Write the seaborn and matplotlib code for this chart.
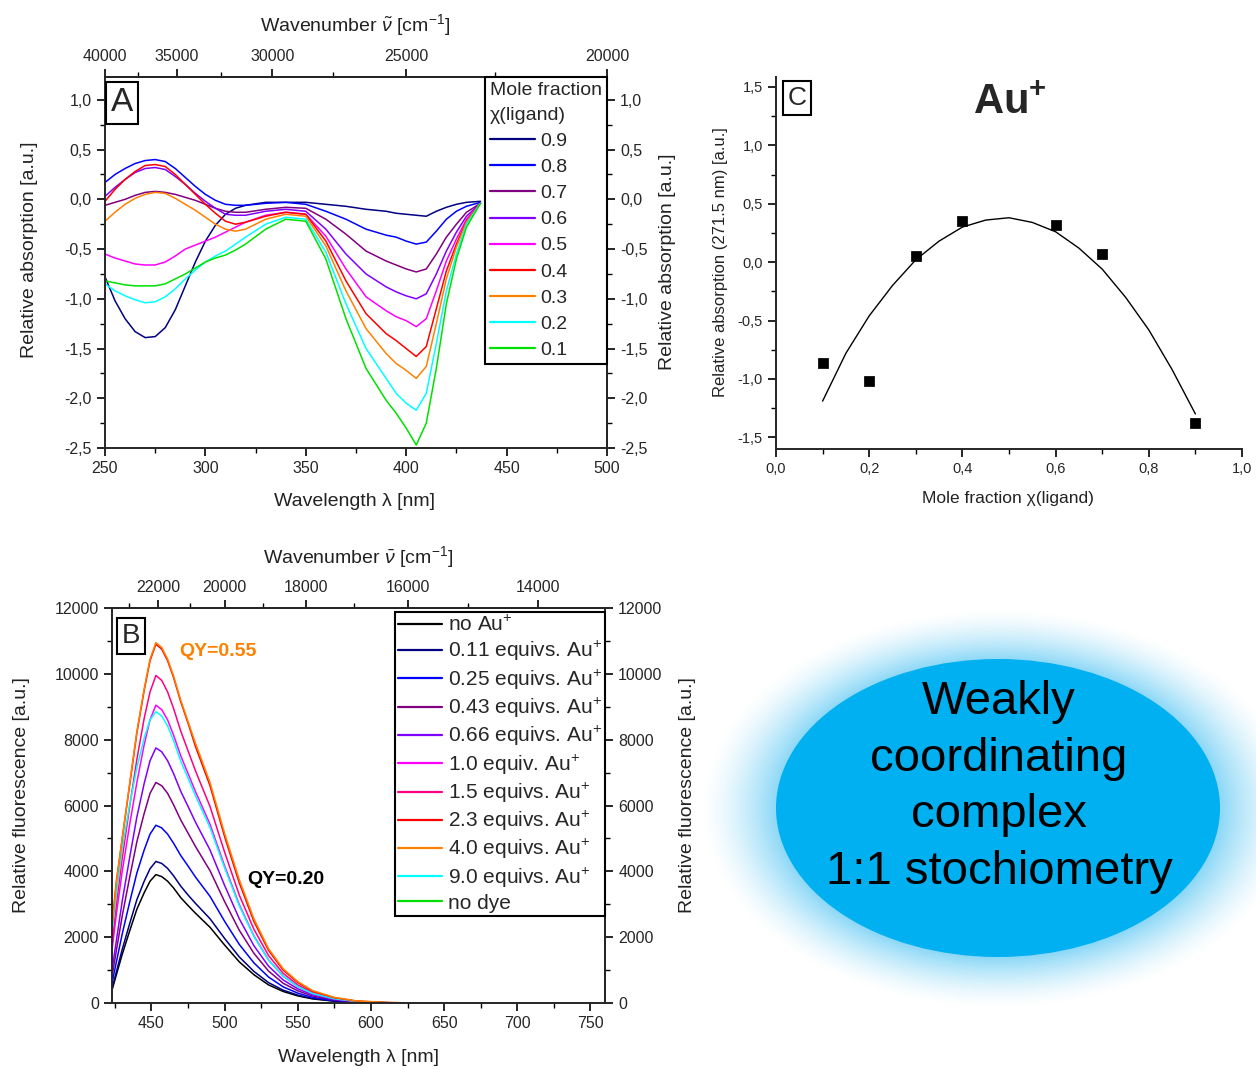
import numpy as np
import matplotlib
matplotlib.use('Agg')
import matplotlib.pyplot as plt
import seaborn as sns
from matplotlib.lines import Line2D
from matplotlib.patches import Ellipse
from matplotlib.ticker import MultipleLocator, FixedLocator, FuncFormatter

# ---------------- Panel A data (relative absorption vs wavelength) ----------------
wl_A = [250, 255, 260, 265, 270, 275, 280, 285, 290, 295, 300, 305, 310, 315, 320,
        330, 340, 350, 360, 370, 380, 390, 395, 400, 405, 410, 415, 420, 425, 430, 437]
abs_09 = [-0.78, -1.02, -1.20, -1.33, -1.39, -1.38, -1.29, -1.11, -0.87, -0.63, -0.42, -0.26, -0.15, -0.09, -0.06,
          -0.03, -0.03, -0.03, -0.05, -0.07, -0.10, -0.12, -0.14, -0.15, -0.16, -0.17, -0.12, -0.08, -0.05, -0.03, -0.02]
abs_08 = [0.17, 0.25, 0.31, 0.36, 0.39, 0.40, 0.38, 0.31, 0.22, 0.13, 0.05, -0.01, -0.05, -0.06, -0.06,
          -0.04, -0.03, -0.05, -0.12, -0.20, -0.30, -0.36, -0.38, -0.42, -0.45, -0.43, -0.32, -0.20, -0.12, -0.07, -0.03]
abs_07 = [-0.06, -0.03, 0.00, 0.04, 0.07, 0.08, 0.07, 0.05, 0.02, -0.01, -0.05, -0.09, -0.12, -0.13, -0.13,
          -0.10, -0.08, -0.09, -0.20, -0.35, -0.52, -0.62, -0.66, -0.70, -0.73, -0.70, -0.55, -0.38, -0.25, -0.13, -0.04]
abs_06 = [0.03, 0.12, 0.20, 0.27, 0.31, 0.32, 0.30, 0.23, 0.15, 0.06, -0.02, -0.09, -0.15, -0.16, -0.16,
          -0.12, -0.10, -0.12, -0.30, -0.55, -0.75, -0.88, -0.93, -0.97, -1.00, -0.95, -0.75, -0.52, -0.33, -0.17, -0.04]
abs_05 = [-0.55, -0.59, -0.62, -0.65, -0.66, -0.66, -0.63, -0.57, -0.50, -0.46, -0.42, -0.38, -0.33, -0.28, -0.23,
          -0.16, -0.13, -0.15, -0.37, -0.70, -0.98, -1.12, -1.18, -1.22, -1.28, -1.20, -0.92, -0.62, -0.40, -0.20, -0.04]
abs_04 = [-0.02, 0.10, 0.20, 0.28, 0.34, 0.35, 0.33, 0.25, 0.15, 0.05, -0.05, -0.14, -0.22, -0.25, -0.23,
          -0.17, -0.13, -0.15, -0.42, -0.82, -1.15, -1.35, -1.42, -1.50, -1.58, -1.48, -1.10, -0.72, -0.45, -0.22, -0.04]
abs_03 = [-0.22, -0.13, -0.05, 0.01, 0.05, 0.07, 0.06, 0.01, -0.05, -0.11, -0.18, -0.25, -0.30, -0.32, -0.30,
          -0.20, -0.15, -0.17, -0.47, -0.92, -1.30, -1.55, -1.65, -1.72, -1.80, -1.68, -1.25, -0.80, -0.48, -0.23, -0.04]
abs_02 = [-0.85, -0.92, -0.97, -1.01, -1.04, -1.03, -0.98, -0.90, -0.80, -0.71, -0.63, -0.57, -0.52, -0.45, -0.38,
          -0.25, -0.18, -0.20, -0.53, -1.05, -1.50, -1.80, -1.95, -2.05, -2.12, -1.95, -1.45, -0.92, -0.55, -0.25, -0.04]
abs_01 = [-0.82, -0.84, -0.86, -0.87, -0.87, -0.87, -0.85, -0.80, -0.75, -0.69, -0.63, -0.59, -0.56, -0.51, -0.45,
          -0.30, -0.20, -0.22, -0.60, -1.20, -1.70, -2.02, -2.15, -2.30, -2.47, -2.25, -1.70, -1.05, -0.60, -0.28, -0.04]
labels_A = ['0.9', '0.8', '0.7', '0.6', '0.5', '0.4', '0.3', '0.2', '0.1']
colors_A = ['#000080', '#0000FF', '#800080', '#8000FF', '#FF00FF', '#FF0000', '#FF8000', '#00FFFF', '#00E000']

# ---------------- Panel B data (fluorescence vs wavelength) ----------------
wl_B = [423, 426, 430, 435, 440, 445, 449, 453, 457, 461, 465, 470, 475, 480, 490, 500,
        510, 520, 530, 540, 550, 560, 575, 590, 610, 627]
fl_noAu = [390, 860, 1480, 2180, 2850, 3350, 3700, 3900, 3840, 3700, 3500, 3200, 2960, 2730, 2300, 1760,
           1250, 860, 550, 350, 215, 125, 55, 20, 5, 0]
fl_011 = [430, 950, 1630, 2400, 3140, 3700, 4080, 4300, 4240, 4090, 3870, 3550, 3280, 3030, 2560, 1960,
          1400, 960, 620, 390, 240, 140, 60, 22, 5, 0]
fl_025 = [600, 1250, 2100, 3050, 3950, 4650, 5130, 5400, 5320, 5130, 4860, 4480, 4160, 3830, 3240, 2480,
          1780, 1220, 790, 490, 300, 175, 76, 27, 6, 0]
fl_043 = [800, 1600, 2650, 3800, 4900, 5760, 6370, 6700, 6600, 6370, 6030, 5560, 5160, 4760, 4020, 3080,
          2210, 1510, 970, 600, 370, 215, 94, 34, 7, 0]
fl_066 = [1000, 1900, 3100, 4400, 5650, 6670, 7360, 7750, 7630, 7360, 6980, 6430, 5970, 5500, 4650, 3570,
          2560, 1740, 1120, 700, 430, 250, 110, 40, 8, 0]
fl_10 = [1600, 2700, 4000, 5400, 6700, 7850, 8600, 9050, 8910, 8600, 8150, 7510, 6970, 6430, 5430, 4160,
         2990, 2040, 1310, 815, 500, 290, 127, 45, 9, 0]
fl_15 = [1800, 3000, 4400, 5950, 7400, 8650, 9450, 9950, 9800, 9450, 8960, 8260, 7660, 7060, 5970, 4580,
         3280, 2240, 1440, 900, 550, 320, 140, 50, 10, 0]
fl_23 = [2400, 3700, 5000, 6600, 8200, 9500, 10400, 10900, 10750, 10400, 9900, 9150, 8500, 7800, 6600, 5050,
         3650, 2480, 1600, 1000, 620, 360, 160, 60, 15, 0]
fl_40 = [2300, 3650, 5000, 6650, 8250, 9550, 10450, 10950, 10800, 10450, 9950, 9200, 8550, 7900, 6700, 5150,
         3750, 2560, 1650, 1040, 650, 380, 170, 65, 18, 0]
fl_90 = [2150, 3300, 4700, 6000, 7150, 8050, 8600, 8850, 8720, 8420, 7980, 7350, 6830, 6300, 5330, 4100,
         2950, 2020, 1300, 820, 500, 290, 128, 48, 12, 0]
fl_nodye = [0] * 26
labels_B = ['no Au$^{+}$', '0.11 equivs. Au$^{+}$', '0.25 equivs. Au$^{+}$', '0.43 equivs. Au$^{+}$',
            '0.66 equivs. Au$^{+}$', '1.0 equiv. Au$^{+}$', '1.5 equivs. Au$^{+}$', '2.3 equivs. Au$^{+}$',
            '4.0 equivs. Au$^{+}$', '9.0 equivs. Au$^{+}$', 'no dye']
colors_B = ['#000000', '#000080', '#0000FF', '#800080', '#8000FF', '#FF00FF', '#FF0080', '#FF0000',
            '#FF8000', '#00FFFF', '#00E000']

# ---------------- Panel C data (Job plot) ----------------
chi_pts = [0.1, 0.2, 0.3, 0.4, 0.6, 0.7, 0.9]
abs_pts = [-0.86, -1.02, 0.05, 0.35, 0.32, 0.07, -1.38]
fit_x = [0.10, 0.15, 0.20, 0.25, 0.30, 0.35, 0.40, 0.45, 0.50, 0.55, 0.60, 0.65, 0.70, 0.75, 0.80, 0.85, 0.90]
fit_y = [-1.19, -0.78, -0.46, -0.20, 0.02, 0.18, 0.30, 0.36, 0.38, 0.34, 0.26, 0.12, -0.06, -0.30, -0.58, -0.92, -1.30]

# ---------------- style ----------------
sns.set_theme(style='ticks')
plt.rcParams['font.family'] = ['Liberation Sans', 'DejaVu Sans']
plt.rcParams['mathtext.fontset'] = 'custom'
plt.rcParams['mathtext.rm'] = 'Liberation Sans'
plt.rcParams['mathtext.it'] = 'Liberation Sans:italic'
plt.rcParams['mathtext.bf'] = 'Liberation Sans:bold'
plt.rcParams['axes.linewidth'] = 1.4

W, H = 1256, 1069
fig = plt.figure(figsize=(W / 100, H / 100), dpi=100)


def ftext(x, y, s, **kw):
    return fig.text(x / W, 1 - y / H, s, **kw)


def box(l, t, r, b):
    return [l / W, 1 - b / H, (r - l) / W, (b - t) / H]


def nm2wn(x):
    x = np.array(x, dtype=float)
    near = np.isclose(x, 0)
    x[near] = np.inf
    x[~near] = 1e7 / x[~near]
    return x


comma = FuncFormatter(lambda v, p: f'{v:.1f}'.replace('.', ','))
intfmt = FuncFormatter(lambda v, p: f'{v:.0f}')
TICK = 11.5
LAB = 14


def style_ticks(a):
    a.tick_params(which='major', direction='out', length=6, width=1.2, labelsize=TICK, color='black')
    a.tick_params(which='minor', direction='out', length=3.5, width=1.0, color='black')


def label(x, y, s, rot=0, size=LAB):
    ftext(x, y, s, fontsize=size, rotation=rot, ha='center', va='center', color='#222222')


# ---------------- glow + ellipse (background overlay) ----------------
axE = fig.add_axes([0, 0, 1, 1])
axE.set_xlim(0, W)
axE.set_ylim(H, 0)
axE.axis('off')
cx, cy, ea, eb = 998, 808, 222, 149
gx = np.arange(640, W + 1)
gy = np.arange(570, H + 1)
GX, GY = np.meshgrid(gx, gy)
R = np.sqrt(((GX - cx) / ea) ** 2 + ((GY - cy) / eb) ** 2)
alpha = np.clip(1 - (R - 1) / 0.34, 0, 1) ** 1.5
img = np.zeros(GX.shape + (4,))
img[..., 0] = 0.55
img[..., 1] = 0.85
img[..., 2] = 0.97
img[..., 3] = alpha
axE.imshow(img, extent=(640, W + 1, H + 1, 570), origin='upper', aspect='auto', interpolation='bilinear')
axE.add_patch(Ellipse((cx, cy), 2 * ea, 2 * eb, facecolor='#00B0F0', edgecolor='none'))
axE.set_xlim(0, W)
axE.set_ylim(H, 0)
ftext(999, 787, 'Weakly\ncoordinating\ncomplex\n1:1 stochiometry', fontsize=34, ha='center', va='center',
      linespacing=1.37, color='black')

# ---------------- Panel A ----------------
axA = fig.add_axes(box(105, 77, 607, 448))
series_A = [abs_09, abs_08, abs_07, abs_06, abs_05, abs_04, abs_03, abs_02, abs_01]
for vals, col in zip(series_A, colors_A):
    sns.lineplot(x=wl_A, y=vals, color=col, lw=1.1, ax=axA, sort=False)
axA.set_xlim(250, 500)
axA.set_ylim(-2.5, 1.23)
axA.set_xticks([250, 300, 350, 400, 450, 500])
axA.xaxis.set_minor_locator(MultipleLocator(25))
axA.set_yticks([-2.5, -2.0, -1.5, -1.0, -0.5, 0.0, 0.5, 1.0])
axA.yaxis.set_minor_locator(MultipleLocator(0.25))
axA.yaxis.set_major_formatter(comma)
style_ticks(axA)
axA.set_xlabel('')
axA.set_ylabel('')
topA = axA.secondary_xaxis('top', functions=(nm2wn, nm2wn))
topA.set_xticks([40000, 35000, 30000, 25000, 20000])
topA.xaxis.set_minor_locator(FixedLocator([37500, 32500, 27500, 22500]))
topA.xaxis.set_major_formatter(intfmt)
style_ticks(topA)
rightA = axA.secondary_yaxis('right')
rightA.set_yticks([-2.5, -2.0, -1.5, -1.0, -0.5, 0.0, 0.5, 1.0])
rightA.yaxis.set_minor_locator(MultipleLocator(0.25))
rightA.yaxis.set_major_formatter(comma)
style_ticks(rightA)
label(355, 501, 'Wavelength λ [nm]')
label(30, 250, 'Relative absorption [a.u.]', rot=90)
label(668, 262, 'Relative absorption [a.u.]', rot=90)
label(355, 25, r'Wavenumber $\tilde{\nu}$ [cm$^{-1}$]')
hA = [Line2D([], [], color=c, lw=1.6) for c in colors_A]
legA = axA.legend(hA, labels_A, title='Mole fraction\nχ(ligand)', loc='upper right', bbox_to_anchor=(1, 1),
                  borderaxespad=0, fontsize=14, title_fontsize=14, alignment='left', frameon=True,
                  fancybox=False, edgecolor='black', framealpha=1, handlelength=2.3, handletextpad=0.3,
                  borderpad=0.25, labelspacing=0.44)
legA.get_title().set_linespacing(1.6)
legA.get_frame().set_linewidth(1.5)
ftext(122, 103, 'A', fontsize=24, ha='center', va='center',
      bbox=dict(boxstyle='square,pad=0.16', fc='white', ec='black', lw=1.5))

# ---------------- Panel B ----------------
axB = fig.add_axes(box(112, 608, 605, 1003))
series_B = [fl_noAu, fl_011, fl_025, fl_043, fl_066, fl_10, fl_15, fl_23, fl_40, fl_90, fl_nodye]
order = [10, 0, 1, 2, 3, 4, 5, 6, 9, 7, 8]
for i in order:
    sns.lineplot(x=wl_B, y=series_B[i], color=colors_B[i], lw=1.1, ax=axB, sort=False)
axB.set_xlim(423, 760)
axB.set_ylim(0, 12000)
axB.set_xticks([450, 500, 550, 600, 650, 700, 750])
axB.xaxis.set_minor_locator(MultipleLocator(25))
axB.set_yticks(range(0, 12001, 2000))
axB.yaxis.set_minor_locator(MultipleLocator(1000))
axB.yaxis.set_major_formatter(intfmt)
style_ticks(axB)
axB.set_xlabel('')
axB.set_ylabel('')
topB = axB.secondary_xaxis('top', functions=(nm2wn, nm2wn))
topB.set_xticks([22000, 20000, 18000, 16000, 14000])
topB.xaxis.set_minor_locator(FixedLocator([23000, 21000, 19000, 17000, 15000]))
topB.xaxis.set_major_formatter(intfmt)
style_ticks(topB)
rightB = axB.secondary_yaxis('right')
rightB.set_yticks(range(0, 12001, 2000))
rightB.yaxis.set_minor_locator(MultipleLocator(1000))
rightB.yaxis.set_major_formatter(intfmt)
style_ticks(rightB)
label(358, 1057, 'Wavelength λ [nm]')
label(22, 795, 'Relative fluorescence [a.u.]', rot=90)
label(688, 795, 'Relative fluorescence [a.u.]', rot=90)
label(358, 557, r'Wavenumber $\bar{\nu}$ [cm$^{-1}$]')
hB = [Line2D([], [], color=c, lw=1.6) for c in colors_B]
legB = axB.legend(hB, labels_B, loc='upper right', bbox_to_anchor=(1, 1 - 4 / 395), borderaxespad=0,
                  fontsize=15, frameon=True, fancybox=False, edgecolor='black', framealpha=1,
                  handlelength=2.1, handletextpad=0.3, borderpad=0.15, labelspacing=0.2)
legB.get_frame().set_linewidth(1.5)
ftext(131, 636, 'B', fontsize=20, ha='center', va='center',
      bbox=dict(boxstyle='square,pad=0.18', fc='white', ec='black', lw=1.5))
ftext(218, 651, 'QY=0.55', fontsize=14, fontweight='bold', color='#FF8000', ha='center', va='center')
ftext(286, 880, 'QY=0.20', fontsize=14, fontweight='bold', color='black', ha='center', va='center')

# ---------------- Panel C ----------------
axC = fig.add_axes(box(776, 77, 1242, 449))
sns.lineplot(x=fit_x, y=fit_y, color='black', lw=1.0, ax=axC, sort=False)
sns.scatterplot(x=chi_pts, y=abs_pts, marker='s', s=45, color='black', edgecolor='black', ax=axC, zorder=3)
axC.set_xlim(0, 1.0)
axC.set_ylim(-1.6, 1.585)
axC.set_xticks([0, 0.2, 0.4, 0.6, 0.8, 1.0])
axC.xaxis.set_minor_locator(MultipleLocator(0.1))
axC.set_yticks([-1.5, -1.0, -0.5, 0.0, 0.5, 1.0, 1.5])
axC.yaxis.set_minor_locator(MultipleLocator(0.25))
axC.xaxis.set_major_formatter(comma)
axC.yaxis.set_major_formatter(comma)
style_ticks(axC)
axC.tick_params(labelsize=10.5)
sns.despine(ax=axC)
axC.set_xlabel('')
axC.set_ylabel('')
label(1008, 498, 'Mole fraction χ(ligand)', size=12.5)
label(720, 262, 'Relative absorption (271.5 nm) [a.u.]', rot=90, size=12)
ftext(797, 98, 'C', fontsize=19, ha='center', va='center',
      bbox=dict(boxstyle='square,pad=0.18', fc='white', ec='black', lw=1.5))
ftext(1010, 103, r'Au$^{\mathbf{+}}$', fontsize=30, fontweight='bold', ha='center', va='center')

fig.savefig('out.png', dpi=100)
